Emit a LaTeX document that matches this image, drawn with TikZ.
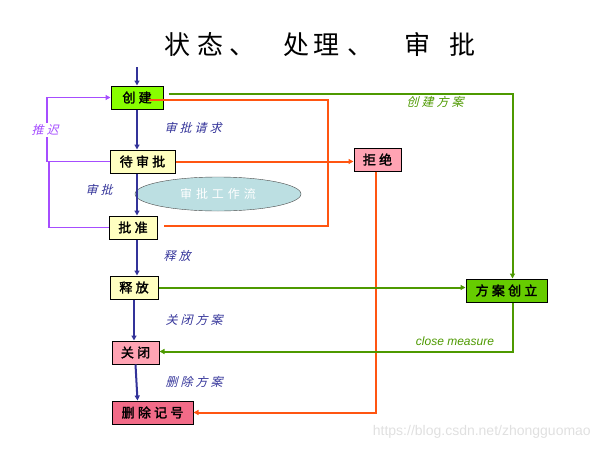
\documentclass[tikz,border=0pt]{standalone}
\usepackage{fontspec}
\usepackage{tikz}
\usetikzlibrary{positioning,arrows.meta,shapes.geometric,calc}
\setmainfont{Liberation Sans}
\newfontfamily\cjk{Noto Sans CJK SC}
\newfontfamily\cjkbold[FakeBold=2,LetterSpace=25]{Noto Sans CJK SC}
\newfontfamily\cjkslant[FakeSlant=0.25,LetterSpace=25]{Noto Sans CJK SC}
\newfontfamily\cjkair[LetterSpace=33]{Noto Sans CJK SC}
\definecolor{navy}{HTML}{333399}
\definecolor{fire}{HTML}{FF5511}
\definecolor{leaf}{HTML}{4D9900}
\definecolor{lilac}{HTML}{A64DFF}
\definecolor{cream}{HTML}{FFFFC0}
\definecolor{limey}{HTML}{88FF00}
\definecolor{grass}{HTML}{66CC00}
\definecolor{rose}{HTML}{FFA3B3}
\definecolor{blush}{HTML}{F26B88}
\definecolor{mist}{HTML}{BCDFE2}

\begin{document}
\begin{tikzpicture}[x=1pt,y=-1pt,
  state/.style={draw=black,line width=1pt,minimum height=23pt,inner sep=0pt,
    font=\fontsize{13}{15}\cjkbold},
  tag/.style={font=\fontsize{12}{14}\cjkslant,inner sep=1pt},
  flow/.style={navy,line width=2pt,-{Triangle[length=5pt,width=5pt]}},
  >={Triangle[length=5pt,width=5pt]}]
  \useasboundingbox (0,0) rectangle (600,450);
  % title
  \node[anchor=west,inner sep=0pt,font=\fontsize{26}{30}\cjk] (title) at (164,45)
    {状\hspace{7pt}态\hspace{6pt}、\hspace{28pt}处\hspace{4pt}理\hspace{8pt}、\hspace{31pt}审\hspace{19pt}批};
  % states
  \node[state,fill=limey,minimum width=52pt] (create) at (137,97.5) {创建};
  \node[state,fill=cream,minimum width=65pt] (pending) at (142.5,161.5) {待审批};
  \node[state,fill=cream,minimum width=48pt] (approve) at (133,227.5) {批准};
  \node[state,fill=cream,minimum width=48pt] (release) at (134,287.5) {释放};
  \node[state,fill=rose,minimum width=47pt] (close) at (135.5,352.5) {关闭};
  \node[state,fill=blush,minimum width=81pt] (delete) at (152.5,412.5) {删除记号};
  \node[state,fill=rose,minimum width=47pt] (reject) at (377.5,159.5) {拒绝};
  \node[state,fill=grass,minimum width=81pt] (plan) at (506.5,290.5) {方案创立};
  \node[ellipse,draw=black!70,fill=mist,minimum width=166pt,minimum height=34pt,inner sep=0pt,
    text=white,font=\fontsize{12}{14}\cjkair] (wf) at (218,194) {审批工作流};
  % main line
  \coordinate (entry) at (137,67);
  \draw[flow] (entry) -- (create.north);
  \draw[flow] (create.south) -- (create.south |- pending.north);
  \draw[flow] (pending.south -| create) -- (approve.north -| create);
  \draw[flow] (approve.south -| create) -- (release.north -| create);
  \draw[flow] (release.south) -- (close.north -| release);
  \draw[flow] (close.south) -- ([xshift=2pt]delete.north -| close);
  \node[tag,text=navy] (t1) at (193,128) {审批请求};
  \node[tag,text=navy] (t2) at (99,190) {审批};
  \node[tag,text=navy] (t3) at (177,256) {释放};
  \node[tag,text=navy] (t4) at (194,320) {关闭方案};
  \node[tag,text=navy] (t5) at (194,382) {删除方案};
  % postpone
  \coordinate (back) at (47,97.5);
  \draw[lilac,line width=1.4pt,->] (pending.west) -| (back) -- (create.west);
  \draw[lilac,line width=1.2pt] (approve.west) -| ([xshift=2pt]pending.west -| back);
  \node[tag,text=lilac,fill=white] (t6) at (45,130) {推迟};
  % reject branch
  \coordinate (okturn) at (328,226);
  \draw[fire,line width=2pt] ([xshift=-15pt,yshift=-2pt]create.east) -| (okturn) -- ([xshift=6pt]approve.east |- okturn);
  \draw[fire,line width=2pt,->] (pending.east) -- (pending.east -| reject.west);
  \draw[fire,line width=2pt,->] ([xshift=-2pt]reject.south) |- (delete.east);
  % plan branch
  \draw[leaf,line width=2pt,->] ([xshift=5pt,yshift=4pt]create.east) -| ([xshift=6pt]plan.north);
  \draw[leaf,line width=2pt,->] (release.east) -- (release.east -| plan.west);
  \draw[leaf,line width=2pt,->] ([xshift=6pt]plan.south) |- ([yshift=1pt]close.east);
  \node[tag,text=leaf] (t7) at (435,102) {创建方案};
  \node[font=\fontsize{12}{14}\itshape,text=leaf,inner sep=1pt] (t8) at (455,341) {close measure};
  \node[font=\fontsize{14}{16}\selectfont,text=black!12,anchor=east,inner sep=0pt] (mark) at (591,432) {https://blog.csdn.net/zhongguomao};
\end{tikzpicture}
\end{document}
